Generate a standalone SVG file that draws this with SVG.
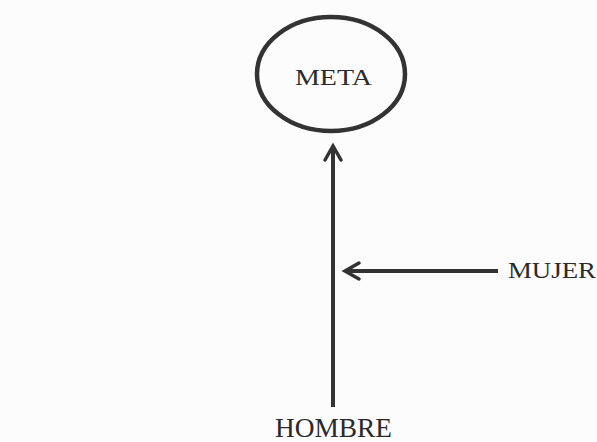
<svg xmlns="http://www.w3.org/2000/svg" width="597" height="442" viewBox="0 0 597 442">
<style>
.t{font-family:"Liberation Serif","DejaVu Serif",serif;fill:#2a2a2a}
.ln{stroke:#333;stroke-width:4;fill:none;stroke-linecap:butt}
.hd{stroke:#333;stroke-width:3.5;fill:none;stroke-linejoin:miter;stroke-linecap:round}
</style>
<rect width="597" height="442" fill="#fcfcfc"/>
<g id="meta">
<ellipse cx="331" cy="74" rx="74" ry="57" fill="none" stroke="#333" stroke-width="4.5"/>
<text class="t" x="295" y="85" font-size="23" textLength="77" lengthAdjust="spacingAndGlyphs">META</text>
</g>
<g id="mujer">
<text class="t" x="508" y="278" font-size="24" textLength="88" lengthAdjust="spacingAndGlyphs">MUJER</text>
</g>
<g id="hombre">
<text class="t" x="275" y="437" font-size="27" textLength="117" lengthAdjust="spacingAndGlyphs">HOMBRE</text>
</g>
<g id="connectors">
<line class="ln" x1="333" y1="407" x2="333" y2="147"/>
<polyline class="hd" points="325,160 333,146 341,160"/>
<line class="ln" x1="498" y1="271" x2="347" y2="271"/>
<polyline class="hd" points="359,263 345,271 359,279"/>
</g>
</svg>
